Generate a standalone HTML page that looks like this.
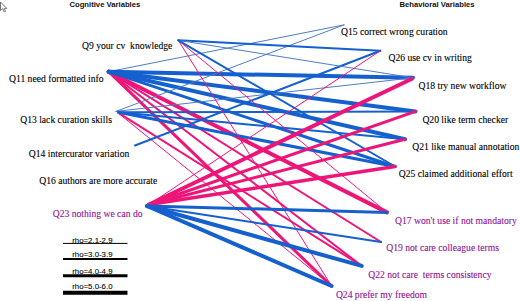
<!DOCTYPE html>
<html><head><meta charset="utf-8"><style>
html,body{margin:0;padding:0;background:#fff;}
body{width:520px;height:301px;overflow:hidden;position:relative;}
svg{position:absolute;left:0;top:0;}
.s{font-family:"Liberation Serif",serif;}
.h{font-family:"Liberation Sans",sans-serif;font-weight:bold;}
.r{font-family:"Liberation Sans",sans-serif;}
</style></head><body>
<svg width="520" height="301" viewBox="0 0 520 301">
<text class="h" x="69.4" y="6.9" font-size="7.7" fill="#111">Cognitive Variables</text>
<text class="h" x="399.4" y="6.9" font-size="7.7" fill="#111">Behavioral Variables</text>
<text class="s" x="82.0" y="48.7" font-size="9.65" fill="#000000" stroke="#000000" stroke-width="0.1" xml:space="preserve">Q9 your cv  knowledge</text>
<text class="s" x="9.0" y="82.1" font-size="9.65" fill="#000000" stroke="#000000" stroke-width="0.1" xml:space="preserve">Q11 need formatted info</text>
<text class="s" x="20.2" y="122.7" font-size="9.65" fill="#000000" stroke="#000000" stroke-width="0.1" xml:space="preserve">Q13 lack curation skills</text>
<text class="s" x="28.8" y="157.3" font-size="9.65" fill="#000000" stroke="#000000" stroke-width="0.1" xml:space="preserve">Q14 intercurator variation</text>
<text class="s" x="39.2" y="183.5" font-size="9.65" fill="#000000" stroke="#000000" stroke-width="0.1" xml:space="preserve">Q16 authors are more accurate</text>
<text class="s" x="52.7" y="217.0" font-size="9.65" fill="#8f1396" stroke="#8f1396" stroke-width="0.1" xml:space="preserve">Q23 nothing we can do</text>
<text class="s" x="341.0" y="35.4" font-size="9.65" fill="#000000" stroke="#000000" stroke-width="0.1" xml:space="preserve">Q15 correct wrong curation</text>
<text class="s" x="388.5" y="61.4" font-size="9.65" fill="#000000" stroke="#000000" stroke-width="0.1" xml:space="preserve">Q26 use cv in writing</text>
<text class="s" x="418.5" y="88.5" font-size="9.65" fill="#000000" stroke="#000000" stroke-width="0.1" xml:space="preserve">Q18 try new workflow</text>
<text class="s" x="422.4" y="122.6" font-size="9.65" fill="#000000" stroke="#000000" stroke-width="0.1" xml:space="preserve">Q20 like term checker</text>
<text class="s" x="412.2" y="149.6" font-size="9.65" fill="#000000" stroke="#000000" stroke-width="0.1" xml:space="preserve">Q21 like manual annotation</text>
<text class="s" x="398.7" y="176.7" font-size="9.65" fill="#000000" stroke="#000000" stroke-width="0.1" xml:space="preserve">Q25 claimed additional effort</text>
<text class="s" x="395.0" y="223.6" font-size="9.65" fill="#8f1396" stroke="#8f1396" stroke-width="0.1" xml:space="preserve">Q17 won't use if not mandatory</text>
<text class="s" x="386.2" y="251.2" font-size="9.65" fill="#8f1396" stroke="#8f1396" stroke-width="0.1" xml:space="preserve">Q19 not care colleague terms</text>
<text class="s" x="368.3" y="278.0" font-size="9.65" fill="#8f1396" stroke="#8f1396" stroke-width="0.1" xml:space="preserve">Q22 not care  terms consistency</text>
<text class="s" x="335.9" y="297.5" font-size="9.65" fill="#8f1396" stroke="#8f1396" stroke-width="0.1" xml:space="preserve">Q24 prefer my freedom</text>
<g stroke-linecap="round" fill="none">
<line x1="108.7" y1="71.7" x2="387.0" y2="212.4" stroke="#ee1578" stroke-width="4"/>
<line x1="108.7" y1="71.7" x2="381.0" y2="242.0" stroke="#ee1578" stroke-width="2"/>
<line x1="108.7" y1="71.7" x2="361.7" y2="265.9" stroke="#ee1578" stroke-width="2"/>
<line x1="108.7" y1="71.7" x2="331.6" y2="286.0" stroke="#ee1578" stroke-width="3"/>
<line x1="118.5" y1="112.8" x2="361.7" y2="265.9" stroke="#ee1578" stroke-width="2"/>
<line x1="118.0" y1="112.8" x2="331.6" y2="286.0" stroke="#ee1578" stroke-width="1"/>
<line x1="108.7" y1="71.7" x2="344.0" y2="24.9" stroke="#4f7cc4" stroke-width="1"/>
<line x1="108.7" y1="71.7" x2="413.0" y2="77.8" stroke="#1560cf" stroke-width="4"/>
<line x1="108.7" y1="71.7" x2="415.5" y2="111.4" stroke="#1560cf" stroke-width="4"/>
<line x1="108.7" y1="71.7" x2="405.0" y2="139.2" stroke="#1560cf" stroke-width="4"/>
<line x1="108.7" y1="71.7" x2="395.0" y2="166.5" stroke="#1560cf" stroke-width="3"/>
<line x1="116.0" y1="111.4" x2="344.0" y2="24.9" stroke="#4f7cc4" stroke-width="1"/>
<line x1="116.0" y1="111.4" x2="413.0" y2="77.8" stroke="#4f7cc4" stroke-width="1"/>
<line x1="118.5" y1="112.3" x2="415.5" y2="111.4" stroke="#1560cf" stroke-width="2"/>
<line x1="118.5" y1="112.3" x2="405.0" y2="139.2" stroke="#1560cf" stroke-width="2"/>
<line x1="118.5" y1="112.3" x2="395.0" y2="166.5" stroke="#1560cf" stroke-width="3"/>
<line x1="135.0" y1="145.5" x2="380.3" y2="50.8" stroke="#1560cf" stroke-width="2"/>
<line x1="178.3" y1="40.3" x2="387.0" y2="212.4" stroke="#ee1578" stroke-width="1"/>
<line x1="178.3" y1="40.3" x2="331.6" y2="286.0" stroke="#ee1578" stroke-width="1"/>
<line x1="178.3" y1="40.3" x2="380.3" y2="50.8" stroke="#1560cf" stroke-width="2"/>
<line x1="178.3" y1="40.3" x2="413.0" y2="77.8" stroke="#4f7cc4" stroke-width="1"/>
<line x1="178.3" y1="40.3" x2="395.0" y2="166.5" stroke="#1560cf" stroke-width="2"/>
<line x1="149" y1="204.5" x2="380.3" y2="50.8" stroke="#ee1578" stroke-width="1"/>
<line x1="149" y1="204.5" x2="411.5" y2="79.0" stroke="#ee1578" stroke-width="4"/>
<line x1="149" y1="204.5" x2="415.5" y2="111.4" stroke="#ee1578" stroke-width="3"/>
<line x1="149" y1="204.5" x2="405.0" y2="139.2" stroke="#ee1578" stroke-width="3"/>
<line x1="149" y1="204.5" x2="395.0" y2="166.5" stroke="#ee1578" stroke-width="3.5"/>
<line x1="147.0" y1="206.0" x2="387.0" y2="212.4" stroke="#1560cf" stroke-width="3"/>
<line x1="147.0" y1="206.0" x2="381.0" y2="242.0" stroke="#1560cf" stroke-width="2"/>
<line x1="147.0" y1="206.0" x2="361.7" y2="265.9" stroke="#1560cf" stroke-width="4"/>
<line x1="147.0" y1="206.0" x2="331.6" y2="286.0" stroke="#1560cf" stroke-width="4"/>
</g>
<line x1="63" y1="243.4" x2="127.5" y2="243.4" stroke="#000" stroke-width="1"/>
<text class="r" x="72.2" y="242.9" font-size="7.85" fill="#000" stroke="#000" stroke-width="0.08">rho=2.1-2.9</text>
<line x1="63" y1="259.1" x2="127.5" y2="259.1" stroke="#000" stroke-width="2"/>
<text class="r" x="72.2" y="257.2" font-size="7.85" fill="#000" stroke="#000" stroke-width="0.08">rho=3.0-3.9</text>
<line x1="63" y1="275.7" x2="127.5" y2="275.7" stroke="#000" stroke-width="3"/>
<text class="r" x="72.2" y="273.5" font-size="7.85" fill="#000" stroke="#000" stroke-width="0.08">rho=4.0-4.9</text>
<line x1="63" y1="292.7" x2="127.5" y2="292.7" stroke="#000" stroke-width="4"/>
<text class="r" x="72.2" y="289.2" font-size="7.85" fill="#000" stroke="#000" stroke-width="0.08">rho=5.0-6.0</text>
<path d="M0.5,2 L0.5,10.5 L2.8,8.6 L4.3,12 L5.6,11.4 L4.2,8.4 L6.8,8.4 Z" fill="#fff" stroke="#777" stroke-width="1"/>
</svg>
</body></html>
